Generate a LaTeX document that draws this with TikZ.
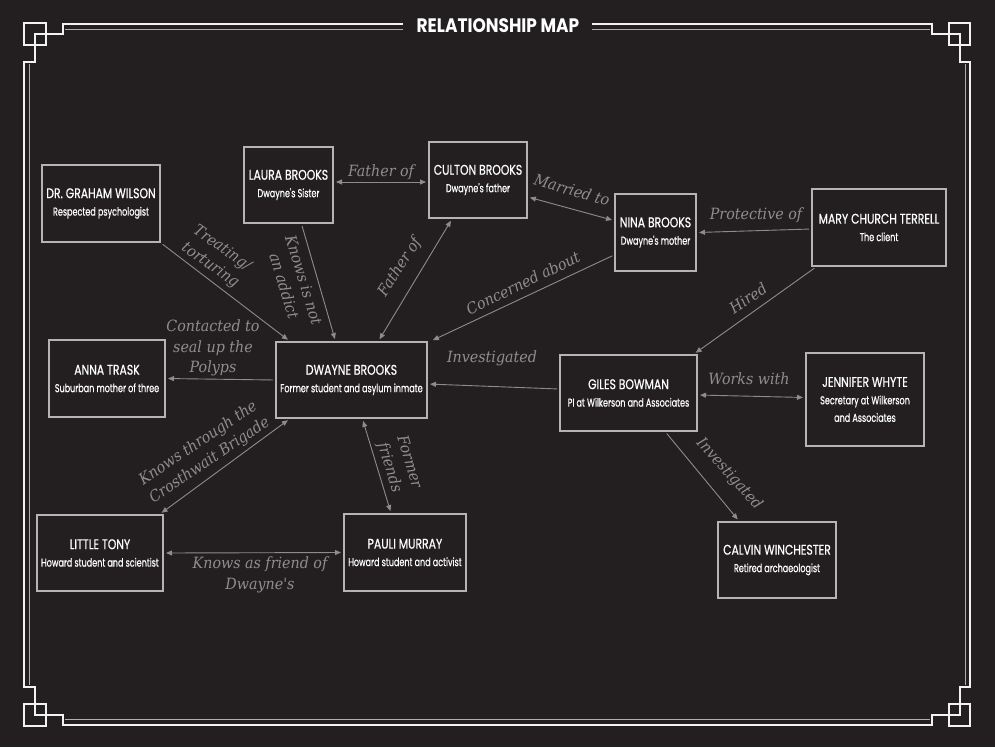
\documentclass[tikz,border=0pt]{standalone}
\usepackage{fontspec}
\usetikzlibrary{arrows.meta}
\newfontfamily\namefont[FakeStretch=0.775,FakeBold=0.6]{Poppins}
\newfontfamily\subfont[FakeStretch=0.70,FakeBold=0.5]{Poppins}
\newfontfamily\titlefont[FakeStretch=0.87]{Poppins}
\newfontfamily\lblfont[FakeStretch=0.92]{DejaVu Serif}
\definecolor{bg}{HTML}{231F20}
\definecolor{boxc}{HTML}{B4B4B4}
\definecolor{linec}{HTML}{8C8C8C}
\definecolor{lblc}{HTML}{8E8E8E}
\definecolor{framew}{HTML}{F2F2F2}
\definecolor{framei}{HTML}{AFAFAF}
\newcommand{\nm}[1]{{\namefont\fontsize{14}{17.5}\selectfont #1}}
\tikzset{
  person/.style={draw=boxc, line width=2pt, fill=bg, text=white, align=center, inner sep=0pt,
    font=\subfont\fontsize{11.5}{17.5}\selectfont},
  rel/.style={draw=linec, line width=0.9pt, shorten >=2pt, shorten <=2pt},
  oneway/.style={rel, -{Triangle[length=6pt,width=5pt]}},
  twoway/.style={rel, {Triangle[length=6pt,width=5pt]}-{Triangle[length=6pt,width=5pt]}},
  lbl/.style={text=lblc, align=center, inner sep=0pt,
    font=\lblfont\itshape\fontsize{15.5}{20.5}\selectfont},
  outerline/.style={draw=framew, line width=2pt},
  innerline/.style={draw=framei, line width=1.3pt},
}
\begin{document}
\begin{tikzpicture}[x=1pt,y=-1pt]
\fill[bg] (0,0) rectangle (995,747);
\useasboundingbox (0,0) rectangle (995,747);

% frame
\draw[outerline] (403,24) -- (63,24) -- (63,34) -- (35,34) -- (35,62) -- (24,62) -- (24,687)
  -- (35,687) -- (35,715) -- (63,715) -- (63,725) -- (932,725) -- (932,715) -- (960,715)
  -- (960,687) -- (970,687) -- (970,62) -- (960,62) -- (960,34) -- (932,34) -- (932,24) -- (592,24);
\draw[outerline] (24,23) rectangle (46,45);
\draw[outerline] (949,23) rectangle (970,45);
\draw[outerline] (24,704) rectangle (46,726);
\draw[outerline] (949,704) rectangle (970,726);
\draw[innerline] (65,29.5) -- (403,29.5);
\draw[innerline] (592,29.5) -- (930,29.5);
\draw[innerline] (65,719.5) -- (930,719.5);
\draw[innerline] (29.5,64) -- (29.5,685);
\draw[innerline] (965.5,64) -- (965.5,685);

\node[text=white, inner sep=0pt, font=\titlefont\bfseries\fontsize{19.5}{21}\selectfont] (title) at (498,25.5) {RELATIONSHIP MAP};

% people
\node[person, minimum width=118pt, minimum height=77pt] (graham) at (101,203.5) {\nm{DR. GRAHAM WILSON}\\Respected psychologist};
\node[person, minimum width=89pt, minimum height=76pt] (laura) at (288.5,185) {\nm{LAURA BROOKS}\\Dwayne's Sister};
\node[person, minimum width=98pt, minimum height=76pt] (culton) at (478,180) {\nm{CULTON BROOKS}\\Dwayne's father};
\node[person, minimum width=81pt, minimum height=77pt] (nina) at (655.5,232.5) {\nm{NINA BROOKS}\\Dwayne's mother};
\node[person, minimum width=134pt, minimum height=77pt] (mary) at (879,227.5) {\nm{MARY CHURCH TERRELL}\\The client};
\node[person, minimum width=116pt, minimum height=77pt] (anna) at (107,378.5) {\nm{ANNA TRASK}\\Suburban mother of three};
\node[person, minimum width=151pt, minimum height=76pt] (dwayne) at (351.5,380) {\nm{DWAYNE BROOKS}\\Former student and asylum inmate};
\node[person, minimum width=137pt, minimum height=76pt] (giles) at (628.5,393) {\nm{GILES BOWMAN}\\PI at Wilkerson and Associates};
\node[person, minimum width=118pt, minimum height=93pt] (jennifer) at (865,399.5) {\nm{JENNIFER WHYTE}\\Secretary at Wilkerson\\and Associates};
\node[person, minimum width=126pt, minimum height=76pt] (tony) at (100,553) {\nm{LITTLE TONY}\\Howard student and scientist};
\node[person, minimum width=122pt, minimum height=77pt] (pauli) at (405,552.5) {\nm{PAULI MURRAY}\\Howard student and activist};
\node[person, minimum width=118pt, minimum height=76pt] (calvin) at (777,560) {\nm{CALVIN WINCHESTER}\\Retired archaeologist};

% connectors
\draw[twoway] ([yshift=3pt]laura.east) -- ([yshift=-2pt]culton.west);
\draw[twoway] ([yshift=-17pt]culton.east) -- ([yshift=12pt]nina.west);
\draw[oneway] ([yshift=-1.5pt]mary.west) -- (nina.east);
\draw[oneway] ([yshift=-22.5pt]nina.west) -- ([xshift=3pt]dwayne.north east);
\draw[twoway] ([xshift=27pt]dwayne.north) -- ([xshift=-26pt]culton.south);
\draw[oneway] (graham.south east) -- ([xshift=-62pt]dwayne.north);
\draw[oneway] ([xshift=13pt]laura.south) -- ([xshift=-16pt]dwayne.north);
\draw[oneway] (dwayne.west) -- (anna.east);
\draw[oneway] ([yshift=4pt]giles.west) -- ([yshift=-4pt]dwayne.east);
\draw[oneway] ([xshift=5pt]mary.south west) -- ([xshift=-4pt]giles.north east);
\draw[twoway] ([yshift=-2pt]giles.east) -- ([yshift=2pt]jennifer.west);
\draw[oneway] ([xshift=37pt]giles.south) -- ([xshift=-38pt]calvin.north);
\draw[twoway] ([xshift=-62pt]dwayne.south) -- ([xshift=-4pt]tony.north east);
\draw[twoway] ([xshift=11pt]dwayne.south) -- ([xshift=-14pt]pauli.north);
\draw[twoway] (tony.east) -- (pauli.west);

% labels
\node[lbl] (l1) at (381,172) {Father of};
\node[lbl, rotate=-16] (l2) at (572,190) {Married to};
\node[lbl] (l3) at (756,215) {Protective of};
\node[lbl, rotate=26] (l4) at (523,283) {Concerned about};
\node[lbl, rotate=57] (l5) at (400,267) {Father of};
\node[lbl, rotate=-35] (l6) at (216,257) {Treating/\\torturing};
\node[lbl, rotate=-73] (l7) at (294,283) {Knows is not\\an addict};
\node[lbl] (l8) at (213,348) {Contacted to\\seal up the\\Polyps};
\node[lbl] (l9) at (492,358) {Investigated};
\node[lbl, rotate=34] (l10) at (748,298) {Hired};
\node[lbl] (l11) at (749,379) {Works with};
\node[lbl, rotate=-48] (l12) at (729,474) {Investigated};
\node[lbl, rotate=34] (l13) at (204,452) {Knows through the\\Crosthwait Brigade};
\node[lbl, rotate=-73] (l14) at (399,465) {Former\\friends};
\node[lbl] (l15) at (260,575) {Knows as friend of\\Dwayne's};
\end{tikzpicture}
\end{document}
